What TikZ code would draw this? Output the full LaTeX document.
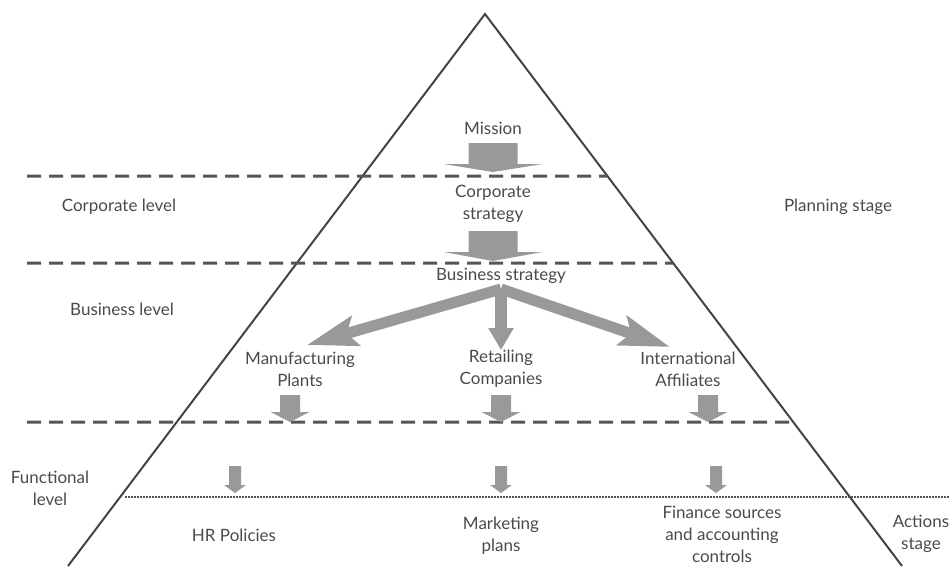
\documentclass[tikz,border=0pt]{standalone}
\usepackage{fontspec}
\setmainfont{Lato}
\usetikzlibrary{arrows.meta,calc}
\definecolor{linegray}{HTML}{444444}
\definecolor{dashgray}{HTML}{555555}
\definecolor{arrowgray}{HTML}{999999}
\definecolor{textgray}{HTML}{4A4A4A}
\begin{document}
\begin{tikzpicture}[x=1pt,y=-1pt,
  lbl/.style={text=textgray, font=\fontsize{17}{22}\selectfont, align=center, inner sep=0pt},
  triline/.style={draw=linegray, line width=2pt},
  dashline/.style={draw=dashgray, line width=3pt, dash pattern=on 14pt off 8pt},
  dotline/.style={draw=dashgray, line width=2.5pt, dash pattern=on 1.8pt off 1.2pt},
  fatarrow/.style={draw=arrowgray, line width=11pt, -{Stealth[length=50pt,width=30pt,inset=9pt]}},
  midarrow/.style={draw=arrowgray, line width=12pt, -{Stealth[length=22pt,width=24pt,inset=0pt]}},
  pics/blockarrow/.style n args={4}{code={
    \fill[arrowgray] (-#1,0) -- (#1,0) -- (#1,#3) -- (#2,#3) -- (0,#4) -- (-#2,#3) -- (-#1,#3) -- cycle;}}
]
\useasboundingbox (0,0) rectangle (950,566);

% triangle
\coordinate (apex) at (485,14);
\coordinate (bl) at (68,566);
\coordinate (br) at (902,566);
\draw[triline] (bl) -- (apex) -- (br);

% level separators
\coordinate (d1l) at (27,176);
\coordinate (d1r) at ($(apex)!{(176-14)/552}!(br)$);
\coordinate (d2l) at (27,263);
\coordinate (d2r) at ($(apex)!{(263-14)/552}!(br)$);
\coordinate (d3l) at (27,422);
\coordinate (d3r) at ($(apex)!{(422-14)/552}!(br)$);
\draw[dashline] (d1l) -- (d1r);
\draw[dashline] (d2l) -- (d2r);
\draw[dashline] (d3l) -- (d3r);
\coordinate (dotl) at (125,497);
\coordinate (dotr) at (950,497);
\draw[dotline] (dotl) -- (dotr);

% texts
\node[lbl] (mission) at (493,128) {Mission};
\node[lbl] (corp) at (493,204) {Corporate\\strategy};
\node[lbl] (bus) at (501,276) {Business strategy};
\node[lbl] (manu) at (300,369) {Manufacturing\\Plants};
\node[lbl] (retail) at (501,369) {Retailing\\Companies};
\node[lbl] (intl) at (688,369) {International\\Affiliates};
\node[lbl] (hr) at (234,535) {HR Policies};
\node[lbl] (mkt) at (501,536) {Marketing\\plans};
\node[lbl] (fin) at (722,534) {Finance sources\\and accounting\\controls};
\node[lbl] (corplvl) at (119,207) {Corporate level};
\node[lbl] (buslvl) at (122,309) {Business level};
\node[lbl] (funclvl) at (50,488) {Functional\\level};
\node[lbl] (plan) at (838,207) {Planning stage};
\node[lbl] (act) at (921,534) {Actions\\stage};

% block arrows
\pic at (493,143) {blockarrow={24.5}{49.5}{21}{29}};
\pic at (493,231) {blockarrow={24.5}{49.5}{21}{30}};
\pic at (290,395) {blockarrow={10}{19.5}{17}{27}};
\pic at (501,395) {blockarrow={10}{19.5}{17}{27}};
\pic at (708,395) {blockarrow={10}{19.5}{17}{27}};
\pic at (235,466) {blockarrow={6}{11}{19}{27}};
\pic at (501,466) {blockarrow={6}{11}{19}{27}};
\pic at (716,466) {blockarrow={6}{11}{19}{27}};

% branching arrows
\coordinate (org) at (501,289);
\coordinate (tipL) at (307,345);
\coordinate (tipM) at (501,350);
\coordinate (tipR) at (670,347);
\draw[fatarrow] (org) -- (tipL);
\draw[fatarrow] (org) -- (tipR);
\draw[midarrow] (org) -- (tipM);
\end{tikzpicture}
\end{document}
